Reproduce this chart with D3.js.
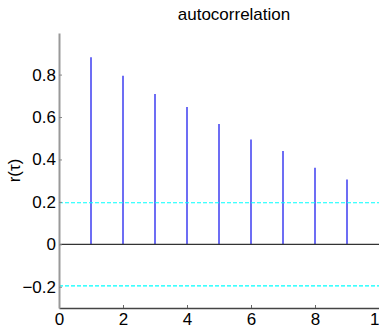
<!DOCTYPE html>
<html>
<head>
<meta charset="utf-8">
<script src="https://cdn.jsdelivr.net/npm/d3@7"></script>
<style>
  body { margin: 0; background: #fff; }
  svg { display: block; font-family: "Liberation Sans", Arial, sans-serif; }
</style>
</head>
<body>
<div id="chart"></div>
<script>
// data
const lags = [1, 2, 3, 4, 5, 6, 7, 8, 9];
const acf = [0.882, 0.794, 0.709, 0.647, 0.567, 0.494, 0.440, 0.361, 0.306];
const confBounds = [0.196, -0.196];
const xTicks = [0, 2, 4, 6, 8, 10];
const yTicks = [-0.2, 0, 0.2, 0.4, 0.6, 0.8];

const W = 379, H = 326;
const margin = { top: 33, right: 0, bottom: 18, left: 59 };

const svg = d3.select("#chart").append("svg")
    .attr("width", W)
    .attr("height", H);

const xScale = d3.scaleLinear([0, 10], [margin.left, 379]);
const yScale = d3.scaleLinear([-0.3, 0.996], [H - margin.bottom, margin.top]);

// stems
svg.selectAll("line.stem")
    .data(lags)
    .join("line")
    .attr("class", "stem")
    .attr("x1", d => xScale(d)).attr("x2", d => xScale(d))
    .attr("y1", yScale(0))
    .attr("y2", (d, i) => yScale(acf[i]))
    .attr("stroke", "#3c3cf0")
    .attr("stroke-width", 1.5);

// confidence lines
svg.selectAll("line.conf")
    .data(confBounds)
    .join("line")
    .attr("class", "conf")
    .attr("x1", xScale(0)).attr("x2", xScale(10))
    .attr("y1", d => yScale(d))
    .attr("y2", d => yScale(d))
    .attr("stroke", "#00ffff")
    .attr("stroke-width", 1.2)
    .attr("stroke-dasharray", "4,2");

// zero line
svg.append("line")
    .attr("x1", xScale(0)).attr("x2", xScale(10))
    .attr("y1", yScale(0)).attr("y2", yScale(0))
    .attr("stroke", "#333")
    .attr("stroke-width", 1.4);

// x axis, ticks inside
const xAxis = svg.append("g")
    .attr("transform", `translate(0,${H - margin.bottom})`)
    .call(d3.axisBottom(xScale).tickValues(xTicks).tickSize(-3).tickPadding(5).tickSizeOuter(0));
xAxis.select(".domain").attr("stroke", "#444").attr("stroke-width", 1.3);
xAxis.selectAll(".tick line").attr("stroke", "#666");
xAxis.selectAll("text")
    .attr("font-size", 17)
    .attr("fill", "#000")
    .attr("dy", "0.71em");

// y axis, ticks inside
const yAxis = svg.append("g")
    .attr("transform", `translate(${margin.left},0)`)
    .call(d3.axisLeft(yScale).tickValues(yTicks).tickFormat(d => d === 0 ? "0" : d3.format(".1f")(d))
        .tickSize(-3).tickPadding(3).tickSizeOuter(0));
yAxis.select(".domain").attr("stroke", "#999").attr("stroke-width", 2);
yAxis.selectAll(".tick line").attr("stroke", "#888");
yAxis.selectAll("text")
    .attr("font-size", 17)
    .attr("fill", "#000");

// title
svg.append("text")
    .attr("x", 234)
    .attr("y", 20)
    .attr("text-anchor", "middle")
    .attr("font-size", 17)
    .text("autocorrelation");

// y label
svg.append("text")
    .attr("transform", `translate(20,${(margin.top + H - margin.bottom) / 2}) rotate(-90)`)
    .attr("text-anchor", "middle")
    .attr("font-size", 17)
    .text("r(τ)");
</script>
</body>
</html>
